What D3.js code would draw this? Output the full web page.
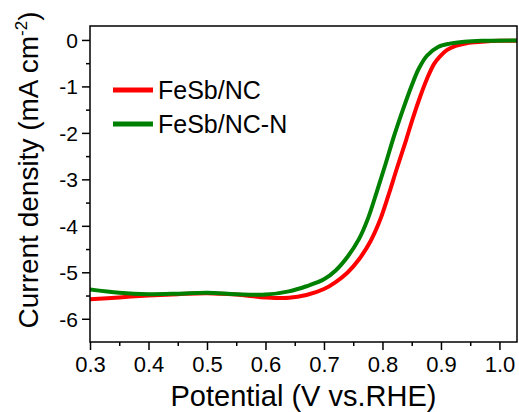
<!DOCTYPE html>
<html>
<head>
<meta charset="utf-8">
<script src="https://cdn.jsdelivr.net/npm/d3@7"></script>
<style>
  body { margin: 0; background: #fff; }
  svg { display: block; font-family: "Liberation Sans", Arial, sans-serif; }
</style>
</head>
<body>
<div id="container"></div>
<script>
// chart size
let width = 519;
let height = 412;

// data
var seriesNames = ["FeSb/NC", "FeSb/NC-N"];
var seriesColors = ["#ff0000", "#008000"];

var potRed = [0.30, 0.35, 0.40, 0.45, 0.50, 0.55, 0.60, 0.64, 0.67, 0.70, 0.72, 0.74, 0.76, 0.78, 0.796, 0.81, 0.825, 0.84, 0.852, 0.865, 0.876, 0.888, 0.898, 0.91, 0.925, 0.944, 0.97, 1.00, 1.03];
var curRed = [-5.58, -5.54, -5.50, -5.47, -5.45, -5.48, -5.54, -5.55, -5.49, -5.36, -5.21, -5.01, -4.72, -4.32, -3.87, -3.35, -2.75, -2.17, -1.68, -1.20, -0.84, -0.52, -0.36, -0.22, -0.13, -0.07, -0.04, -0.02, -0.02];

var potGreen = [0.30, 0.35, 0.40, 0.45, 0.50, 0.55, 0.60, 0.64, 0.67, 0.70, 0.72, 0.74, 0.76, 0.775, 0.79, 0.805, 0.82, 0.835, 0.85, 0.862, 0.876, 0.895, 0.915, 0.94, 0.97, 1.03];
var curGreen = [-5.37, -5.44, -5.47, -5.46, -5.44, -5.47, -5.48, -5.41, -5.30, -5.15, -4.96, -4.67, -4.28, -3.85, -3.28, -2.68, -2.06, -1.50, -0.98, -0.62, -0.34, -0.15, -0.08, -0.04, -0.02, -0.01];

var xTicks = [0.3, 0.4, 0.5, 0.6, 0.7, 0.8, 0.9, 1.0];
var xMinor = [0.35, 0.45, 0.55, 0.65, 0.75, 0.85, 0.95];
var yTicks = [0, -1, -2, -3, -4, -5, -6];
var yMinor = [-0.5, -1.5, -2.5, -3.5, -4.5, -5.5];

// plot frame (pTop, not "top": that one is the window)
var pLeft = 90, pRight = 517, pTop = 26, pBottom = 342;

var svg = d3.select("#container").append("svg")
  .attr("width", width)
  .attr("height", height);

var x = d3.scaleLinear().domain([0.3, 1.03]).range([pLeft, pRight]);
var y = d3.scaleLinear().domain([-6.5, 0.3]).range([pBottom, pTop]);

// clip the curves to the frame
svg.append("clipPath").attr("id", "clip")
  .append("rect")
  .attr("x", pLeft).attr("y", pTop)
  .attr("width", pRight - pLeft).attr("height", pBottom - pTop);

var line = d3.line()
  .x(function(d) { return x(d[0]); })
  .y(function(d) { return y(d[1]); })
  .curve(d3.curveCatmullRom.alpha(0.5));

var series = [
  d3.zip(potRed, curRed),
  d3.zip(potGreen, curGreen)
];

svg.append("g").attr("clip-path", "url(#clip)")
  .selectAll("path")
  .data(series)
  .enter().append("path")
  .attr("d", line)
  .attr("fill", "none")
  .attr("stroke", function(d, i) { return seriesColors[i]; })
  .attr("stroke-width", 4)
  .attr("stroke-linejoin", "round");

// x axis
var gx = svg.append("g").attr("transform", "translate(0," + pBottom + ")")
  .call(d3.axisBottom(x).tickValues(xTicks).tickSize(8).tickPadding(6)
    .tickFormat(d3.format(".1f")));
svg.append("g").attr("transform", "translate(0," + pBottom + ")")
  .call(d3.axisBottom(x).tickValues(xMinor).tickSize(4).tickFormat(""));

// y axis
var gy = svg.append("g").attr("transform", "translate(" + pLeft + ",0)")
  .call(d3.axisLeft(y).tickValues(yTicks).tickSize(8).tickPadding(4)
    .tickFormat(d3.format("d")));
svg.append("g").attr("transform", "translate(" + pLeft + ",0)")
  .call(d3.axisLeft(y).tickValues(yMinor).tickSize(4).tickFormat(""));

svg.selectAll(".domain").remove();
svg.selectAll(".tick line").attr("stroke", "#000").attr("stroke-width", 1.5);
gx.selectAll("text").attr("font-size", 22).attr("fill", "#000")
  .attr("font-family", "Liberation Sans, Arial, sans-serif");
gy.selectAll("text").attr("font-size", 21).attr("fill", "#000")
  .attr("font-family", "Liberation Sans, Arial, sans-serif")
  .attr("dy", "0.36em")
  .text(function(d) { return d === 0 ? "0" : "-" + Math.abs(d); });

// frame
svg.append("rect")
  .attr("x", pLeft).attr("y", pTop)
  .attr("width", pRight - pLeft).attr("height", pBottom - pTop)
  .attr("fill", "none")
  .attr("stroke", "#000")
  .attr("stroke-width", 1.5);

// axis titles
svg.append("text")
  .attr("x", (pLeft + pRight) / 2)
  .attr("y", 406)
  .attr("text-anchor", "middle")
  .attr("font-size", 29)
  .text("Potential (V vs.RHE)");

var ty = svg.append("text")
  .attr("transform", "translate(38," + 170 + ") rotate(-90)")
  .attr("text-anchor", "middle")
  .attr("font-size", 28);
ty.append("tspan").text("Current density (mA cm");
ty.append("tspan").attr("font-size", 17).attr("dy", -11).text("-2");
ty.append("tspan").attr("dy", 11).text(")");

// legend
var legend = svg.append("g").selectAll("g")
  .data(seriesNames)
  .enter().append("g")
  .attr("transform", function(d, i) { return "translate(113," + (90 + i * 34) + ")"; });
legend.append("line")
  .attr("x1", 0).attr("x2", 40)
  .attr("stroke", function(d, i) { return seriesColors[i]; })
  .attr("stroke-width", 5);
legend.append("text")
  .attr("x", 45)
  .attr("y", 9)
  .attr("font-size", 25)
  .text(function(d) { return d; });
</script>
</body>
</html>
